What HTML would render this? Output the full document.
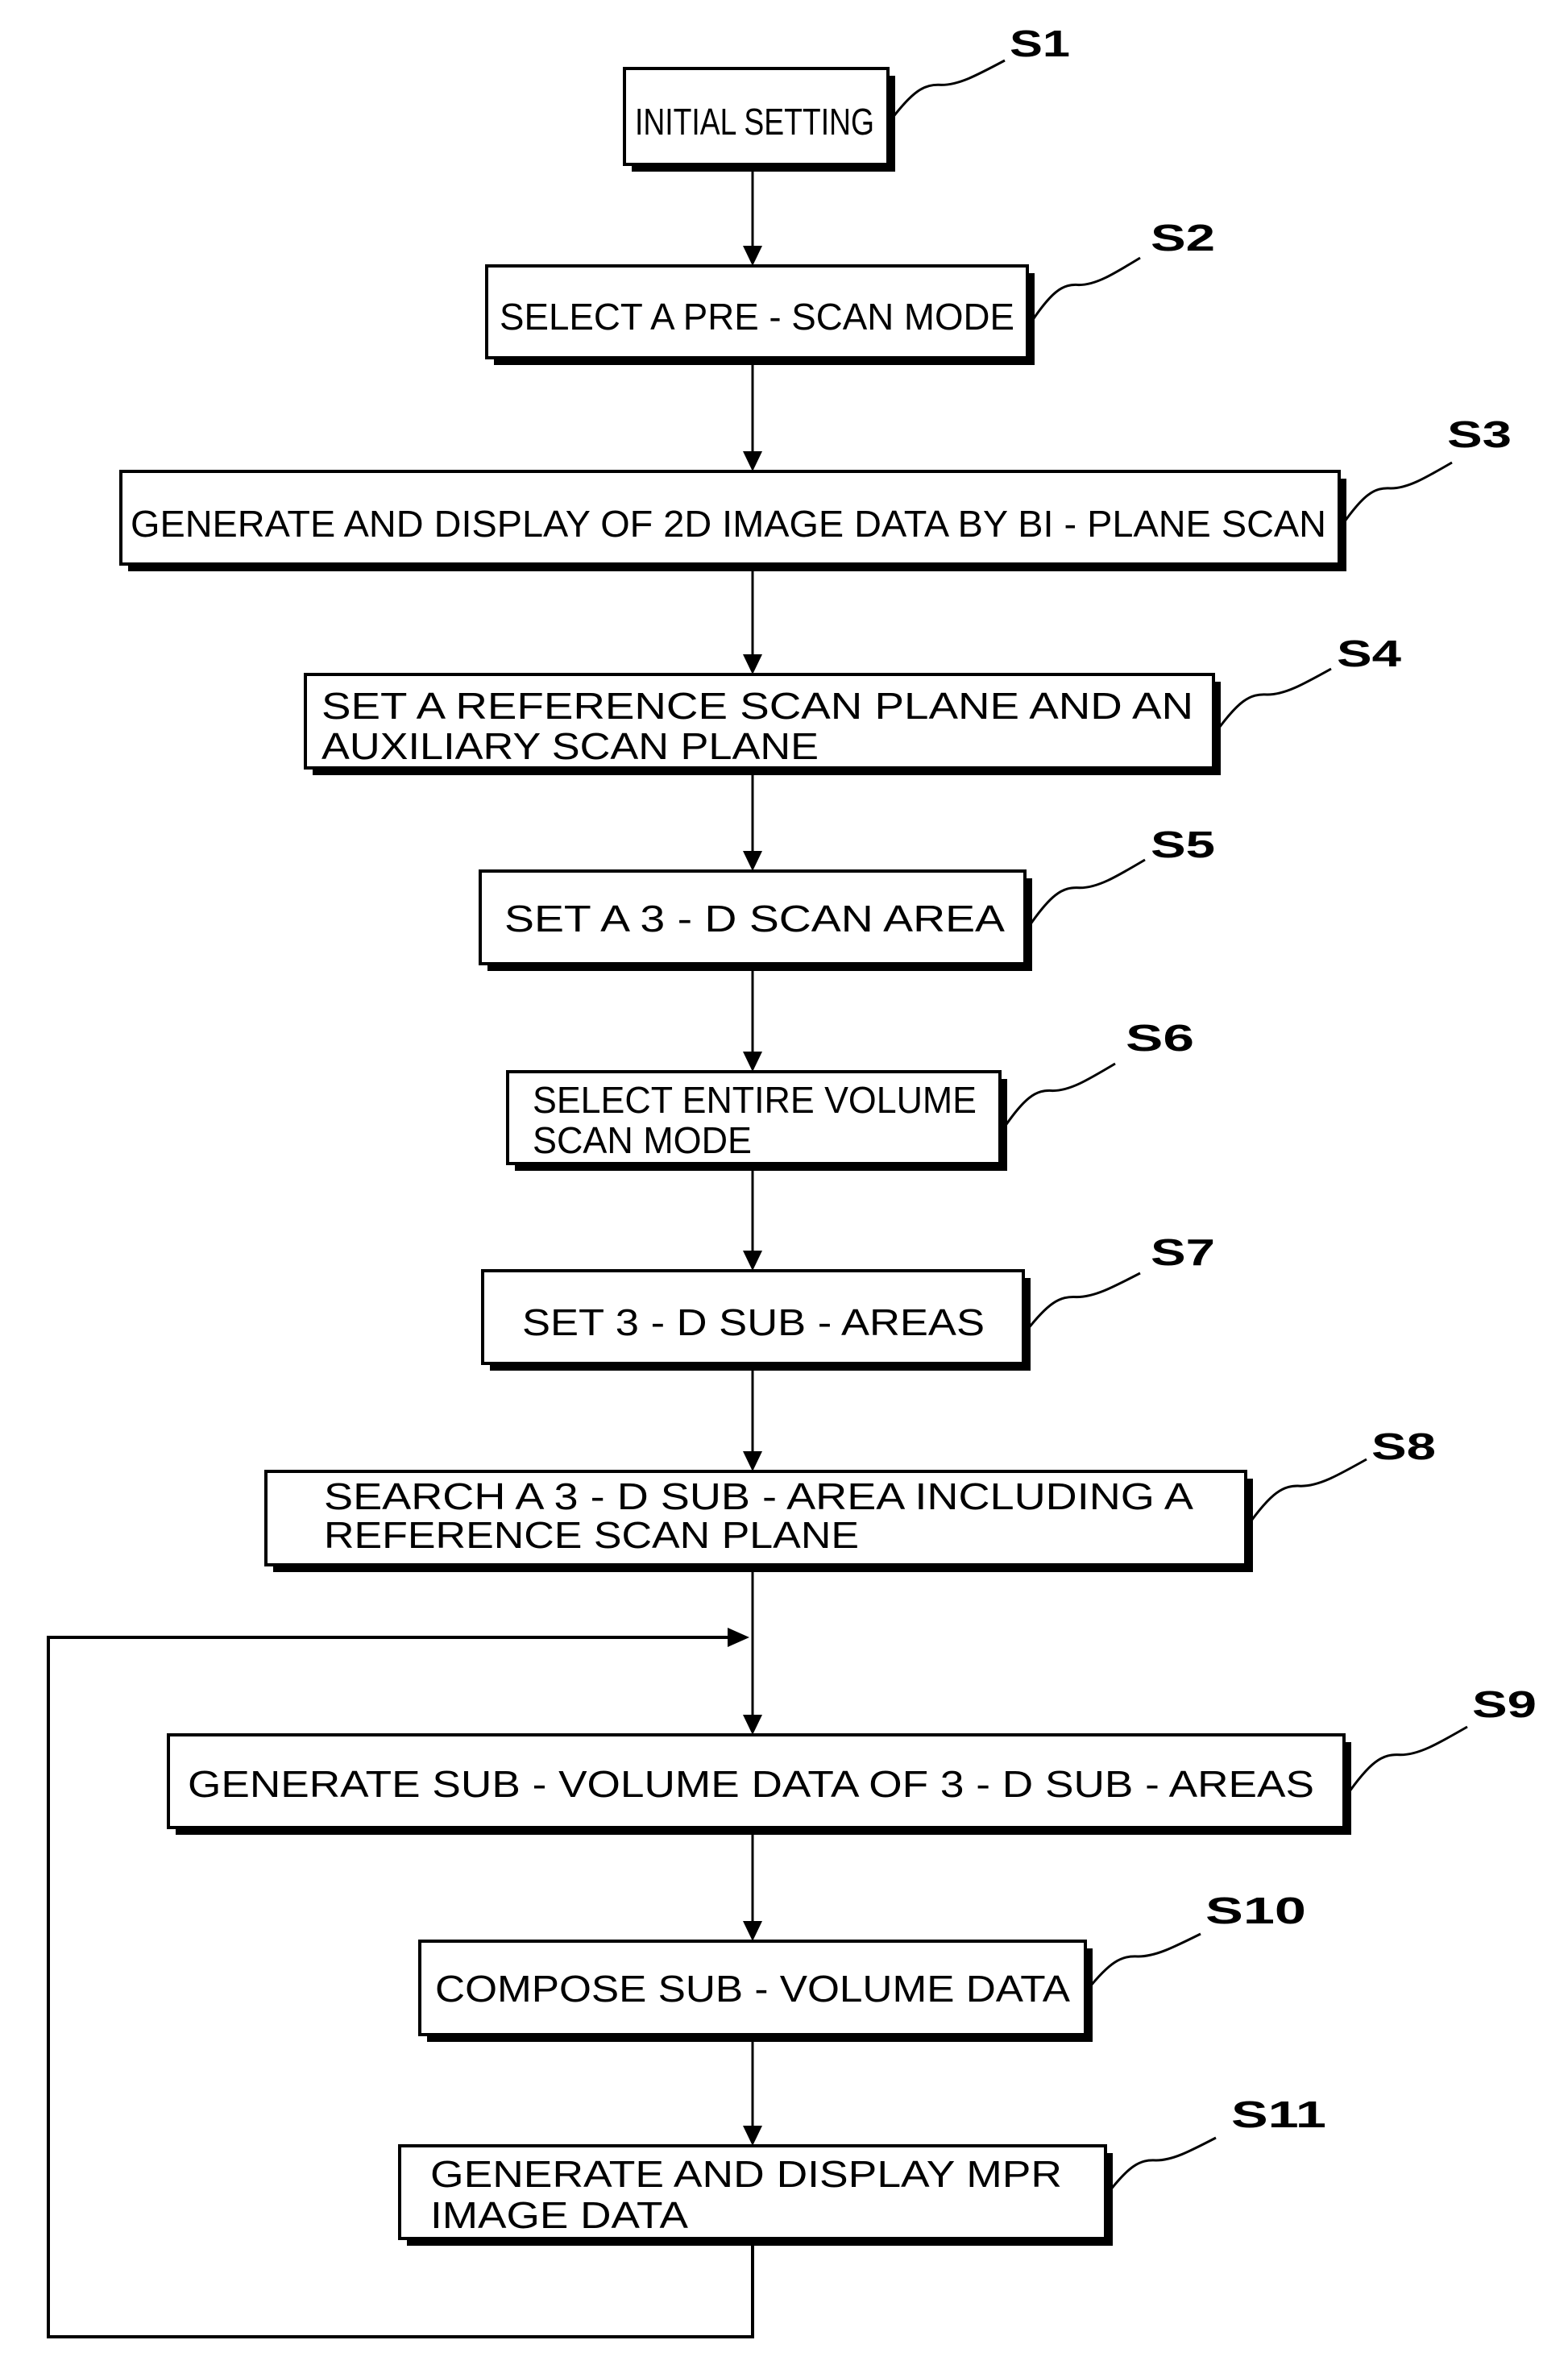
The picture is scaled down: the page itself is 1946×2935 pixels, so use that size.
<!DOCTYPE html>
<html><head><meta charset="utf-8"><style>html,body{margin:0;padding:0;background:#fff}svg{display:block}</style></head>
<body>
<svg width="1946" height="2935" viewBox="0 0 1946 2935" xmlns="http://www.w3.org/2000/svg">
<g fill="#000">
<!-- shadows -->
<rect x="784" y="94" width="327" height="119"/>
<rect x="613" y="339" width="671" height="114"/>
<rect x="159" y="594" width="1512" height="115"/>
<rect x="388" y="846" width="1127" height="116"/>
<rect x="605" y="1090" width="676" height="115"/>
<rect x="639" y="1339" width="611" height="114"/>
<rect x="608" y="1586" width="671" height="115"/>
<rect x="339" y="1835" width="1216" height="116"/>
<rect x="218" y="2162" width="1459" height="115"/>
<rect x="530" y="2418" width="826" height="116"/>
<rect x="505" y="2672" width="876" height="115"/>
</g>
<g fill="#fff" stroke="#000" stroke-width="4">
<rect x="775" y="85" width="327" height="119"/>
<rect x="604" y="330" width="671" height="114"/>
<rect x="150" y="585" width="1512" height="115"/>
<rect x="379" y="837" width="1127" height="116"/>
<rect x="596" y="1081" width="676" height="115"/>
<rect x="630" y="1330" width="611" height="114"/>
<rect x="599" y="1577" width="671" height="115"/>
<rect x="330" y="1826" width="1216" height="116"/>
<rect x="209" y="2153" width="1459" height="115"/>
<rect x="521" y="2409" width="826" height="116"/>
<rect x="496" y="2663" width="876" height="115"/>
</g>
<!-- connectors -->
<g stroke="#000" stroke-width="3" fill="none">
<line x1="934" y1="213" x2="934" y2="305"/>
<line x1="934" y1="453" x2="934" y2="560"/>
<line x1="934" y1="709" x2="934" y2="812"/>
<line x1="934" y1="962" x2="934" y2="1056"/>
<line x1="934" y1="1205" x2="934" y2="1305"/>
<line x1="934" y1="1453" x2="934" y2="1552"/>
<line x1="934" y1="1701" x2="934" y2="1801"/>
<line x1="934" y1="1951" x2="934" y2="2128"/>
<line x1="934" y1="2277" x2="934" y2="2384"/>
<line x1="934" y1="2534" x2="934" y2="2638"/>
<polyline points="934,2787 934,2900 60,2900 60,2032 905,2032" stroke-width="4"/>
</g>
<g fill="#000">
<polygon points="922,305 946,305 934,330"/>
<polygon points="922,560 946,560 934,585"/>
<polygon points="922,812 946,812 934,837"/>
<polygon points="922,1056 946,1056 934,1081"/>
<polygon points="922,1305 946,1305 934,1330"/>
<polygon points="922,1552 946,1552 934,1577"/>
<polygon points="922,1801 946,1801 934,1826"/>
<polygon points="922,2128 946,2128 934,2153"/>
<polygon points="922,2384 946,2384 934,2409"/>
<polygon points="922,2638 946,2638 934,2663"/>
<polygon points="903,2020 903,2044 930,2032"/>
</g>
<!-- box text -->
<g font-family="Liberation Sans, sans-serif" font-size="46" fill="#000" lengthAdjust="spacingAndGlyphs">
<text x="788" y="167" textLength="297" lengthAdjust="spacingAndGlyphs">INITIAL SETTING</text>
<text x="620" y="409" textLength="639" lengthAdjust="spacingAndGlyphs">SELECT A PRE - SCAN MODE</text>
<text x="162" y="666" textLength="1484" lengthAdjust="spacingAndGlyphs">GENERATE AND DISPLAY OF 2D IMAGE DATA BY BI - PLANE SCAN</text>
<text x="399" y="892" textLength="1082" lengthAdjust="spacingAndGlyphs">SET A REFERENCE SCAN PLANE AND AN</text>
<text x="399" y="942" textLength="617" lengthAdjust="spacingAndGlyphs">AUXILIARY SCAN PLANE</text>
<text x="626" y="1156" textLength="621" lengthAdjust="spacingAndGlyphs">SET A 3 - D SCAN AREA</text>
<text x="661" y="1381" textLength="551" lengthAdjust="spacingAndGlyphs">SELECT ENTIRE VOLUME</text>
<text x="661" y="1431" textLength="272" lengthAdjust="spacingAndGlyphs">SCAN MODE</text>
<text x="648" y="1657" textLength="574" lengthAdjust="spacingAndGlyphs">SET 3 - D SUB - AREAS</text>
<text x="402" y="1873" textLength="1079" lengthAdjust="spacingAndGlyphs">SEARCH A 3 - D SUB - AREA INCLUDING A</text>
<text x="402" y="1921" textLength="664" lengthAdjust="spacingAndGlyphs">REFERENCE SCAN PLANE</text>
<text x="233" y="2230" textLength="1398" lengthAdjust="spacingAndGlyphs">GENERATE SUB - VOLUME DATA OF 3 - D SUB - AREAS</text>
<text x="540" y="2484" textLength="788" lengthAdjust="spacingAndGlyphs">COMPOSE SUB - VOLUME DATA</text>
<text x="534" y="2714" textLength="784" lengthAdjust="spacingAndGlyphs">GENERATE AND DISPLAY MPR</text>
<text x="534" y="2765" textLength="320" lengthAdjust="spacingAndGlyphs">IMAGE DATA</text>
</g>
<!-- step labels -->
<g font-family="Liberation Sans, sans-serif" font-size="46" font-weight="bold" fill="#000">
<text x="1253" y="70" textLength="75" lengthAdjust="spacingAndGlyphs">S1</text>
<text x="1428" y="311" textLength="80" lengthAdjust="spacingAndGlyphs">S2</text>
<text x="1796" y="555" textLength="80" lengthAdjust="spacingAndGlyphs">S3</text>
<text x="1659" y="827" textLength="80" lengthAdjust="spacingAndGlyphs">S4</text>
<text x="1428" y="1064" textLength="80" lengthAdjust="spacingAndGlyphs">S5</text>
<text x="1397" y="1304" textLength="85" lengthAdjust="spacingAndGlyphs">S6</text>
<text x="1428" y="1570" textLength="80" lengthAdjust="spacingAndGlyphs">S7</text>
<text x="1702" y="1811" textLength="80" lengthAdjust="spacingAndGlyphs">S8</text>
<text x="1827" y="2131" textLength="80" lengthAdjust="spacingAndGlyphs">S9</text>
<text x="1496" y="2387" textLength="125" lengthAdjust="spacingAndGlyphs">S10</text>
<text x="1528" y="2640" textLength="118" lengthAdjust="spacingAndGlyphs">S11</text>
</g>
<!-- leader squiggles -->
<g stroke="#000" stroke-width="3" fill="none">
<path vector-effect="non-scaling-stroke" transform="translate(1104,151) scale(143,76)" d="M0,0 C0.2,-0.5 0.3,-0.62 0.45,-0.6 C0.6,-0.6 0.75,-0.75 1,-1"/>
<path vector-effect="non-scaling-stroke" transform="translate(1277,404) scale(138,84)" d="M0,0 C0.2,-0.5 0.3,-0.62 0.45,-0.6 C0.6,-0.6 0.75,-0.75 1,-1"/>
<path vector-effect="non-scaling-stroke" transform="translate(1664,654) scale(138,80)" d="M0,0 C0.2,-0.5 0.3,-0.62 0.45,-0.6 C0.6,-0.6 0.75,-0.75 1,-1"/>
<path vector-effect="non-scaling-stroke" transform="translate(1508,910) scale(144,80)" d="M0,0 C0.2,-0.5 0.3,-0.62 0.45,-0.6 C0.6,-0.6 0.75,-0.75 1,-1"/>
<path vector-effect="non-scaling-stroke" transform="translate(1274,1154) scale(147,87)" d="M0,0 C0.2,-0.5 0.3,-0.62 0.45,-0.6 C0.6,-0.6 0.75,-0.75 1,-1"/>
<path vector-effect="non-scaling-stroke" transform="translate(1243,1404) scale(141,84)" d="M0,0 C0.2,-0.5 0.3,-0.62 0.45,-0.6 C0.6,-0.6 0.75,-0.75 1,-1"/>
<path vector-effect="non-scaling-stroke" transform="translate(1272,1654) scale(143,74)" d="M0,0 C0.2,-0.5 0.3,-0.62 0.45,-0.6 C0.6,-0.6 0.75,-0.75 1,-1"/>
<path vector-effect="non-scaling-stroke" transform="translate(1548,1894) scale(148,83)" d="M0,0 C0.2,-0.5 0.3,-0.62 0.45,-0.6 C0.6,-0.6 0.75,-0.75 1,-1"/>
<path vector-effect="non-scaling-stroke" transform="translate(1670,2230) scale(151,87)" d="M0,0 C0.2,-0.5 0.3,-0.62 0.45,-0.6 C0.6,-0.6 0.75,-0.75 1,-1"/>
<path vector-effect="non-scaling-stroke" transform="translate(1349,2470) scale(141,70)" d="M0,0 C0.2,-0.5 0.3,-0.62 0.45,-0.6 C0.6,-0.6 0.75,-0.75 1,-1"/>
<path vector-effect="non-scaling-stroke" transform="translate(1374,2723) scale(135,70)" d="M0,0 C0.2,-0.5 0.3,-0.62 0.45,-0.6 C0.6,-0.6 0.75,-0.75 1,-1"/>
</g>
</svg>
</body></html>
